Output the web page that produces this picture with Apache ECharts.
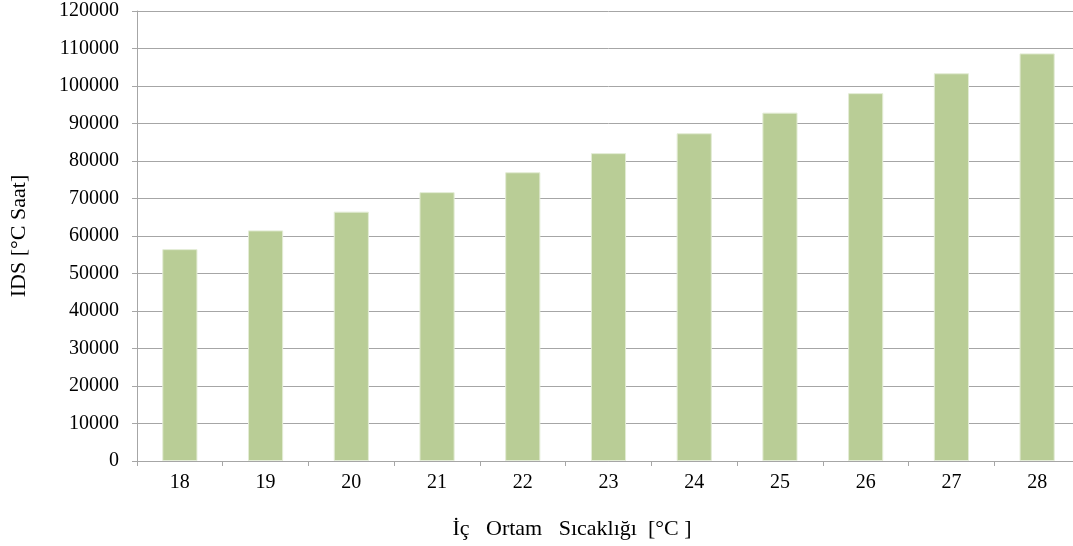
<!DOCTYPE html>
<html>
<head>
<meta charset="utf-8">
<script src="https://cdn.jsdelivr.net/npm/echarts@6/dist/echarts.min.js"></script>
<style>
html,body{margin:0;padding:0;background:#fff;overflow:hidden;}
#chart{width:1080px;height:546px;}
</style>
</head>
<body>
<div id="chart"></div>
<script>
const categories = ['18','19','20','21','22','23','24','25','26','27','28'];
const idsValues = [56500, 61500, 66500, 71700, 77000, 82100, 87400, 92900, 98100, 103400, 108700];
const yTicks = {min: 0, max: 120000, interval: 10000};
const xAxisTitle = 'İç   Ortam   Sıcaklığı  [°C ]';
const yAxisTitle = 'IDS [°C Saat]';

const font = 'Liberation Serif';
const chart = echarts.init(document.getElementById('chart'), null, {renderer: 'canvas'});
chart.setOption({
  animation: false,
  backgroundColor: '#ffffff',
  grid: {left: 136, right: 0, top: 11, bottom: 85, containLabel: false},
  xAxis: {
    type: 'category',
    data: categories,
    axisLine: {lineStyle: {color: '#a6a6a6', width: 1}},
    axisTick: {show: true, length: 5, lineStyle: {color: '#a6a6a6'}},
    axisLabel: {color: '#000', fontFamily: font, fontSize: 20, margin: 12}
  },
  yAxis: {
    type: 'value',
    min: yTicks.min, max: yTicks.max, interval: yTicks.interval,
    name: yAxisTitle,
    nameLocation: 'middle',
    nameGap: 107,
    nameRotate: 90,
    nameTextStyle: {color: '#000', fontFamily: font, fontSize: 22},
    axisLine: {show: true, lineStyle: {color: '#a6a6a6', width: 1}},
    axisTick: {show: true, length: 5, lineStyle: {color: '#a6a6a6'}},
    axisLabel: {color: '#000', fontFamily: font, fontSize: 20, margin: 18, formatter: v => String(v)},
    splitLine: {lineStyle: {color: '#a6a6a6', width: 1}}
  },
  graphic: [{
    type: 'text',
    x: 572, y: 529,
    style: {text: xAxisTitle, fill: '#000', font: '22px "Liberation Serif"', textAlign: 'center', textVerticalAlign: 'middle'}
  }],
  series: [{
    type: 'bar',
    data: idsValues,
    barWidth: '41%',
    itemStyle: {color: '#b9cd96', borderColor: '#e3ecd5', borderWidth: 1}
  }]
});
</script>
</body>
</html>
